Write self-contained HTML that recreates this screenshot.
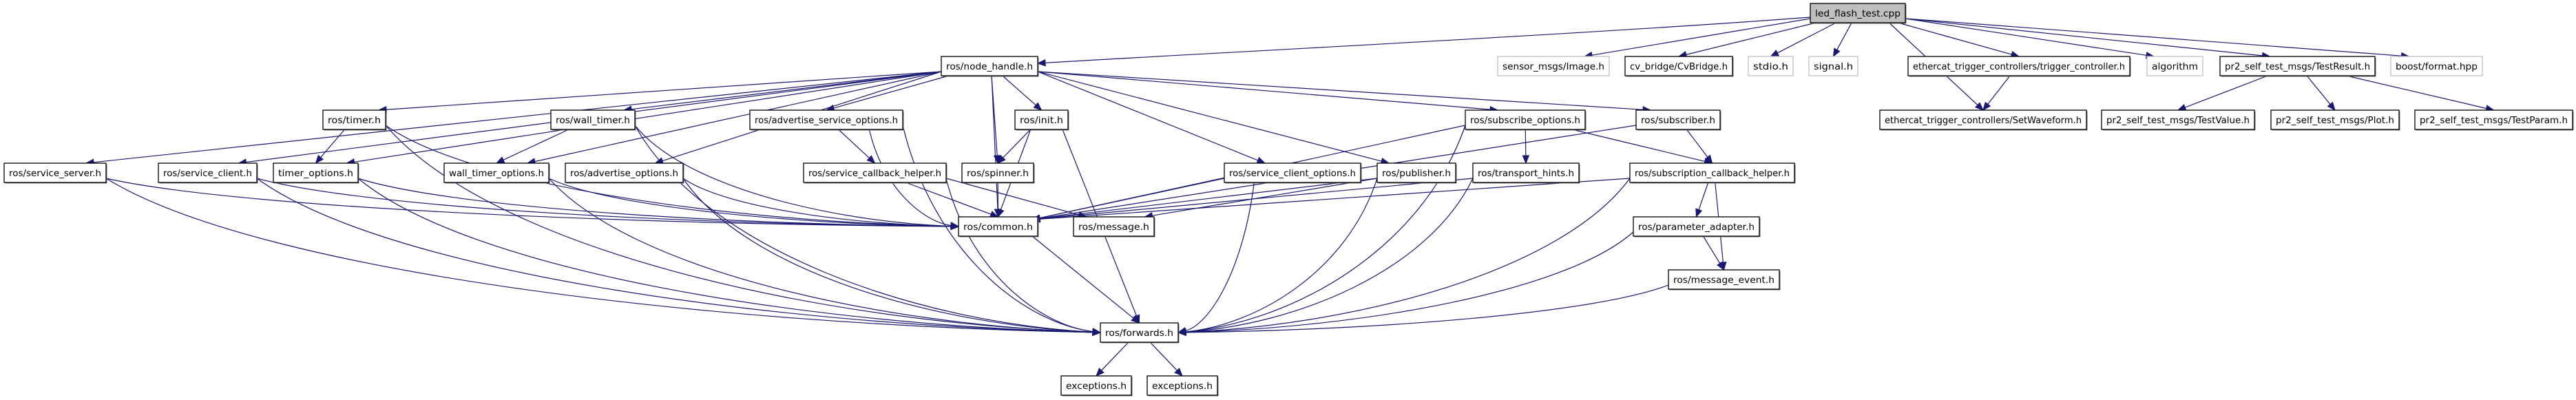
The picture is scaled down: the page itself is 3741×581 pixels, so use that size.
<!DOCTYPE html>
<html><head><meta charset="utf-8"><style>
html,body{margin:0;padding:0;background:#fff;}
svg{display:block;}
text{font-family:"DejaVu Sans","Liberation Sans",sans-serif;font-size:13px;fill:#000;}
</style></head><body>
<svg id="g" width="3741" height="581" viewBox="0 0 3741 581" xmlns="http://www.w3.org/2000/svg">
<g id="edges" fill="none" stroke="#191970" stroke-width="1.2"></g>
<g id="heads" fill="#191970" stroke="#191970" stroke-width="1"></g>
<g id="nodes"></g>
</svg>
<script>
var R=[5,82,160,237,315,392,469,546],H=28;
var N={
led:["led_flash_test.cpp",2629,2767,0,"r"],
nh:["ros/node_handle.h",1367,1507,1,"n"],
img:["sensor_msgs/Image.h",2175,2337,1,"g"],
cvb:["cv_bridge/CvBridge.h",2360,2516,1,"n"],
stdio:["stdio.h",2539,2604,1,"g"],
sig:["signal.h",2627,2698,1,"g"],
tc:["ethercat_trigger_controllers/trigger_controller.h",2771,3093,1,"n"],
alg:["algorithm",3118,3199,1,"g"],
tr:["pr2_self_test_msgs/TestResult.h",3224,3449,1,"n"],
bf:["boost/format.hpp",3472,3605,1,"g"],
timer:["ros/timer.h",469,560,2,"n"],
wt:["ros/wall_timer.h",800,922,2,"n"],
aso:["ros/advertise_service_options.h",1089,1311,2,"n"],
init:["ros/init.h",1474,1551,2,"n"],
so:["ros/subscribe_options.h",2128,2302,2,"n"],
sub:["ros/subscriber.h",2376,2498,2,"n"],
sw:["ethercat_trigger_controllers/SetWaveform.h",2730,3030,2,"n"],
tv:["pr2_self_test_msgs/TestValue.h",3052,3274,2,"n"],
plot:["pr2_self_test_msgs/Plot.h",3298,3484,2,"n"],
tp:["pr2_self_test_msgs/TestParam.h",3507,3736,2,"n"],
ss:["ros/service_server.h",6,154,3,"n"],
sc:["ros/service_client.h",230,373,3,"n"],
to:["timer_options.h",397,520,3,"n"],
wto:["wall_timer_options.h",645,797,3,"n"],
ao:["ros/advertise_options.h",821,992,3,"n"],
sch:["ros/service_callback_helper.h",1167,1374,3,"n"],
spin:["ros/spinner.h",1397,1501,3,"n"],
sco:["ros/service_client_options.h",1778,1976,3,"n"],
pub:["ros/publisher.h",2000,2114,3,"n"],
th:["ros/transport_hints.h",2139,2293,3,"n"],
subh:["ros/subscription_callback_helper.h",2367,2606,3,"n"],
com:["ros/common.h",1392,1507,4,"n"],
msg:["ros/message.h",1559,1676,4,"n"],
pa:["ros/parameter_adapter.h",2372,2555,4,"n"],
me:["ros/message_event.h",2423,2584,5,"n"],
fw:["ros/forwards.h",1598,1711,6,"n"],
ex1:["exceptions.h",1541,1643,7,"n"],
ex2:["exceptions.h",1666,1768,7,"n"]
};
var E="led nh,led img,led cvb,led stdio,led sig,led tc,led sw,led alg,led tr,led bf,tc sw,tr tv,tr plot,tr tp,nh ss,nh sc,nh timer,nh to,nh wt,nh wto,nh ao,nh aso,nh init,nh spin,nh com,nh sco,nh pub,nh so,nh sub,timer to,timer com,timer fw,wt wto,wt com,wt fw,aso sch,aso com,aso fw,ss com,ss fw,sc com,sc fw,to com,to fw,wto com,wto fw,ao com,ao fw,sch com,sch msg,sch fw,init spin,init com,init fw,spin com,so com,so th,so subh,so fw,sub com,sub subh,sco com,sco fw,pub com,pub msg,pub fw,th com,th fw,subh com,subh pa,subh me,subh fw,pa me,pa fw,me fw,com fw,fw ex1,fw ex2".split(",");
var ns="http://www.w3.org/2000/svg";
function el(t,a,p){var e=document.createElementNS(ns,t);for(var k in a)e.setAttribute(k,a[k]);p.appendChild(e);return e;}
var eg=document.getElementById("edges"),hg=document.getElementById("heads"),ng=document.getElementById("nodes");
function head(ex,ey,tx,ty){var dx=ex-tx,dy=ey-ty,l=Math.hypot(dx,dy)||1;dx/=l;dy/=l;var L=11,W=4.5;
var bx=ex-dx*L,by=ey-dy*L;el("polygon",{points:ex+","+ey+" "+(bx-dy*W)+","+(by+dx*W)+" "+(bx+dy*W)+","+(by-dx*W)},hg);return [bx,by];}
function draw(a,b){var s=N[a],t=N[b];var sy1=R[s[3]],sy2=sy1+H,ty1=R[t[3]],ty2=ty1+H;
var scx=(s[1]+s[2])/2,tcx=(t[1]+t[2])/2;
if(a=="nh"&&b=="fw"){path(1507,92,2690,110,2720,500,1711,486);return;}
if(a=="sub"&&b=="fw"){path(2498,180,2620,220,2610,470,1711,482);return;}
if(a=="led"&&b=="nh"){path(2629,25,2300,50,1700,80,1507,92);return;}
var sx,sy,ex,ey,c1x,c1y,c2x,c2y;
var dx=tcx-scx;
var side=(b=="com"||b=="fw")&&Math.abs(dx)>220;
if(b=="com"&&dx<0&&side){side=false;}
if(Math.abs(dx)>(s[2]-s[1])*0.9&&Math.abs(dx)>300){sx=dx<0?s[1]:s[2];sy=sy2-6;}
else{sx=Math.max(s[1]+8,Math.min(s[2]-8,scx+dx*0.25));sy=sy2;}
if(side){ex=dx<0?t[2]:t[1];ey=ty1+H/2;
c1x=sx+(ex-sx)*0.15;c1y=sy+(ey-sy)*0.6;c2x=ex-(ex-sx)*0.4;c2y=ey-(ey-sy)*0.05;}
else{ex=Math.max(t[1]+10,Math.min(t[2]-10,tcx+(dx>300?-40:(dx<-300?45:0))));ey=ty1;
if(b=="com"&&dx<-300){ex=t[2]-8;ey=ty1+4;}
c1x=sx+(ex-sx)*0.3;c1y=sy+(ey-sy)*0.3;c2x=sx+(ex-sx)*0.7;c2y=sy+(ey-sy)*0.7;}
path(sx,sy,c1x,c1y,c2x,c2y,ex,ey);}
function path(sx,sy,c1x,c1y,c2x,c2y,ex,ey){var b=head(ex,ey,c2x,c2y);
el("path",{d:"M"+sx+","+sy+" C"+c1x+","+c1y+" "+c2x+","+c2y+" "+b[0]+","+b[1]},eg);}
E.forEach(function(p){var q=p.split(" ");draw(q[0],q[1]);});
for(var k in N){var n=N[k],y=R[n[3]],w=n[2]-n[1];
var st=n[4]=="g"?"#bfbfbf":"#000",fill=n[4]=="r"?"#bfbfbf":"#fff";
if(n[4]!="g")el("rect",{x:n[1]+1.5,y:y+1.5,width:w,height:H,fill:"#777"},ng);
el("rect",{x:n[1],y:y,width:w,height:H,fill:fill,stroke:st,"stroke-width":1.3},ng);
var t=el("text",{x:(n[1]+n[2])/2,y:y+19,"text-anchor":"middle",textLength:w-14,lengthAdjust:"spacingAndGlyphs"},ng);t.textContent=n[0];}
</script>
</body></html>
